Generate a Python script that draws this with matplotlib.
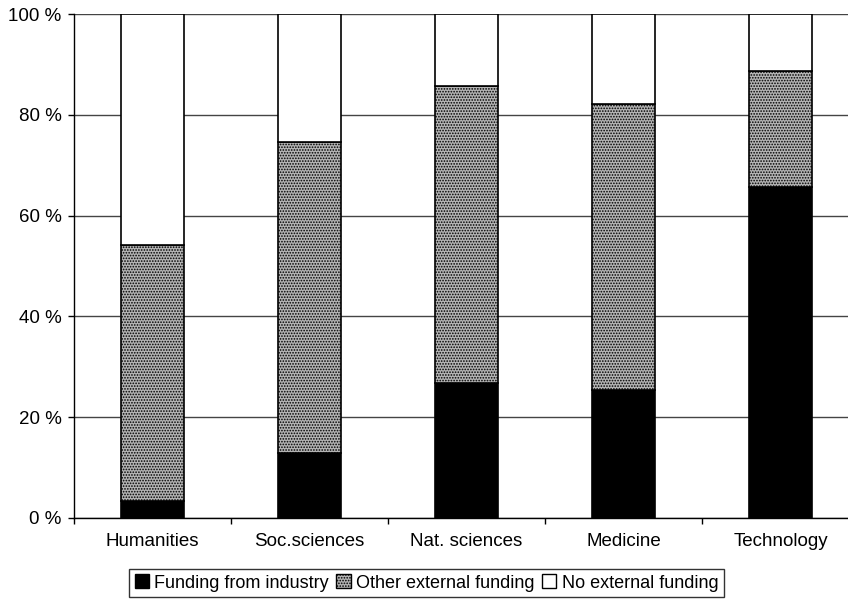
import matplotlib
matplotlib.use("Agg")
import matplotlib.pyplot as plt
import numpy as np
from matplotlib.patches import Patch

plt.rcParams['font.family'] = ['Liberation Sans', 'DejaVu Sans']
plt.rcParams['hatch.color'] = '#555555'
plt.rcParams['hatch.linewidth'] = 0.8

categories = ["Humanities", "Soc.sciences", "Nat. sciences", "Medicine", "Technology"]
industry = [3.4, 12.8, 26.7, 25.4, 65.7]
other_top = [54.1, 74.6, 85.8, 82.2, 88.7]
other = [o - i for o, i in zip(other_top, industry)]
none = [100 - o for o in other_top]
yticks = [0, 20, 40, 60, 80, 100]
ytick_labels = ["0 %", "20 %", "40 %", "60 %", "80 %", "100 %"]
legend_labels = ["Funding from industry", "Other external funding", "No external funding"]

fig = plt.figure(figsize=(8.48, 6.01), dpi=100)
ax = fig.add_axes([74/848, 1-517.8/601, (859-74)/848, (517.8-14.3)/601])

x = np.arange(len(categories))
w = 0.4
ax.bar(x, industry, width=w, color='black', edgecolor='black', linewidth=1.2, zorder=3)
ax.bar(x, other, bottom=industry, width=w, color='#b4b4b4', edgecolor='black',
       linewidth=1.2, hatch='......', zorder=3)
ax.bar(x, none, bottom=other_top, width=w, color='white', edgecolor='black',
       linewidth=1.2, zorder=3)

ax.set_xlim(-0.5, len(categories) - 0.5)
ax.set_ylim(0, 100)
ax.set_yticks(yticks)
ax.set_yticklabels(ytick_labels, fontsize=13.5)
ax.yaxis.grid(True, color='#444444', linewidth=1.0, zorder=0)
ax.set_axisbelow(True)

ax.set_xticks(np.arange(len(categories) + 1) - 0.5)
ax.set_xticklabels([])
ax.set_xticks(x, minor=True)
ax.set_xticklabels(categories, minor=True, fontsize=13.5)
ax.tick_params(axis='x', which='minor', length=0, pad=11)
ax.tick_params(axis='x', which='major', length=4, width=1, direction='out')
ax.tick_params(axis='y', length=4, width=1, direction='out', pad=5)

for s in ['top', 'right']:
    ax.spines[s].set_visible(False)
ax.spines['left'].set_linewidth(1.0)
ax.spines['bottom'].set_linewidth(1.0)

handles = [Patch(facecolor='black', edgecolor='black'),
           Patch(facecolor='#b4b4b4', edgecolor='black', hatch='......'),
           Patch(facecolor='white', edgecolor='black')]
leg = fig.legend(handles, legend_labels, loc='center', bbox_to_anchor=(426.5/848, 1-583/601),
                 ncol=3, fontsize=13, frameon=True, fancybox=False, edgecolor='black',
                 handlelength=0.8, handleheight=0.8, handletextpad=0.3, columnspacing=0.4,
                 borderpad=0.3, borderaxespad=0)
leg.get_frame().set_linewidth(1.0)

fig.savefig("out.png", dpi=100)
